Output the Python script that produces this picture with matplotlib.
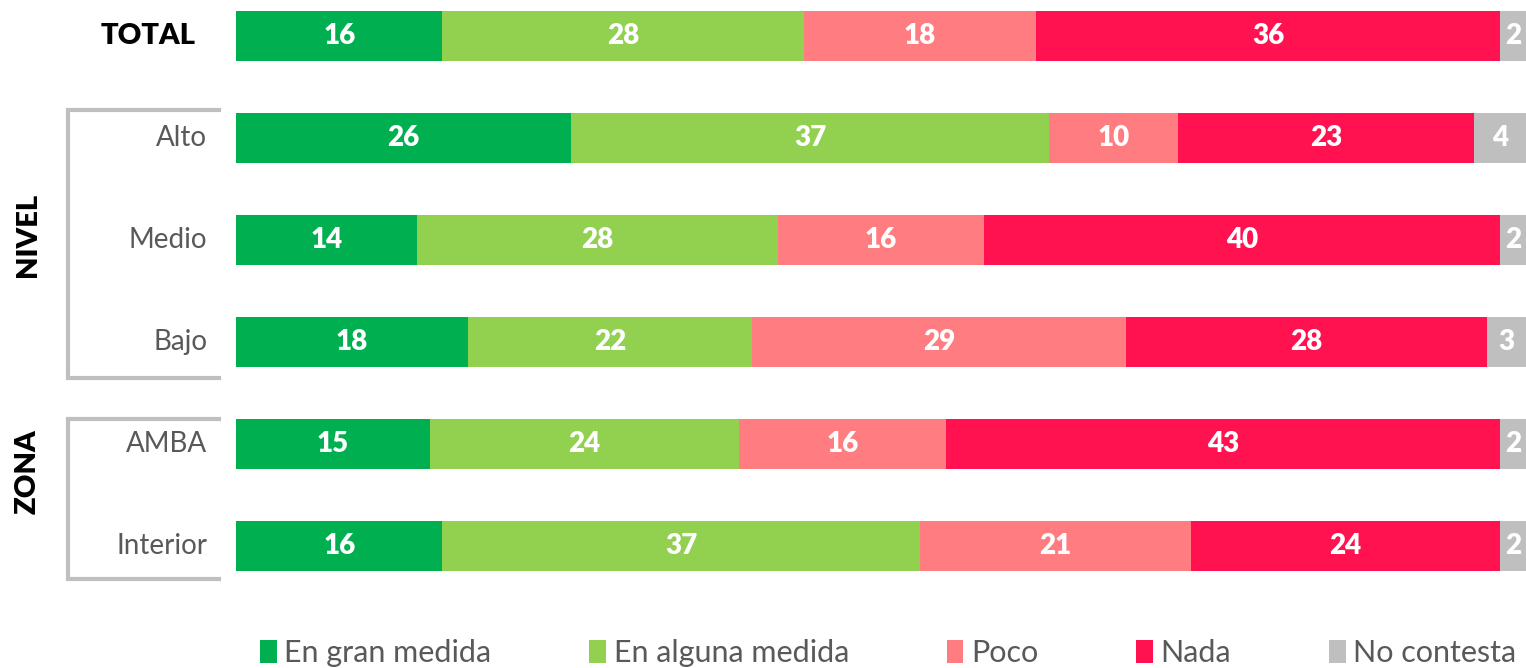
import matplotlib
matplotlib.use("Agg")
import matplotlib.pyplot as plt
from matplotlib.lines import Line2D
import numpy as np

plt.rcParams['font.family'] = ['Lato', 'DejaVu Sans']

categories = ["TOTAL", "Alto", "Medio", "Bajo", "AMBA", "Interior"]
series_names = ["En gran medida", "En alguna medida", "Poco", "Nada", "No contesta"]
en_gran_medida = [16, 26, 14, 18, 15, 16]
en_alguna_medida = [28, 37, 28, 22, 24, 37]
poco = [18, 10, 16, 29, 16, 21]
nada = [36, 23, 40, 28, 43, 24]
no_contesta = [2, 4, 2, 3, 2, 2]
groups = [("NIVEL", 1, 3), ("ZONA", 4, 5)]

series = [en_gran_medida, en_alguna_medida, poco, nada, no_contesta]
colors = ["#00B050", "#92D050", "#FF7C80", "#FF124F", "#BFBFBF"]

W, H = 1526, 668
fig = plt.figure(figsize=(W / 100, H / 100), dpi=100)
ax = fig.add_axes([236 / W, 0, 1290 / W, 1])

y = np.arange(len(categories))
left = np.zeros(len(categories))
handles = []
for name, vals, col in zip(series_names, series, colors):
    vals = np.array(vals, dtype=float)
    bars = ax.barh(y, vals, left=left, height=0.49, color=col, label=name,
                   edgecolor='none')
    ax.bar_label(bars, labels=[str(int(v)) for v in vals], label_type='center',
                 color='white', fontsize=20, fontweight='heavy')
    left += vals
    handles.append(bars)

ax.set_xlim(0, 100)
ax.set_ylim(6.196, -0.353)
ax.axis('off')

def px_to_data_x(px):
    return (px - 236) / 1290 * 100

# category labels
for i, cat in enumerate(categories):
    if cat == "TOTAL":
        ax.text(px_to_data_x(196), i, cat, ha='right', va='center', fontsize=21,
                fontweight='heavy', color='black')
    else:
        ax.text(px_to_data_x(207), i, cat, ha='right', va='center', fontsize=20,
                color='#595959')

bracket_col = '#BFBFBF'
offsets = {"NIVEL": (0.275, 0.355), "ZONA": (0.245, 0.325)}
for name, i0, i1 in groups:
    dt, db = offsets[name]
    ytop = i0 - dt
    ybot = i1 + db
    xl = px_to_data_x(68)
    xr = px_to_data_x(219)
    ax.add_line(Line2D([xr, xl, xl, xr], [ytop, ytop, ybot, ybot],
                       color=bracket_col, lw=3, clip_on=False,
                       solid_joinstyle='miter'))
    ycen = (i0 + i1) / 2 - 0.05 if name == "NIVEL" else i0 + 0.27
    ax.text(px_to_data_x(28), ycen, name, rotation=90, ha='center',
            va='center', fontsize=21, fontweight='heavy', color='black')

leg = fig.legend(handles=handles, labels=series_names, loc='center',
                 bbox_to_anchor=(0.582, 0.022), ncol=5, frameon=False,
                 fontsize=22, handlelength=0.55, handleheight=0.75,
                 handletextpad=0.25, columnspacing=3.2, labelcolor='#595959',
                 borderpad=0, borderaxespad=0)

fig.savefig("out.png", dpi=100)
